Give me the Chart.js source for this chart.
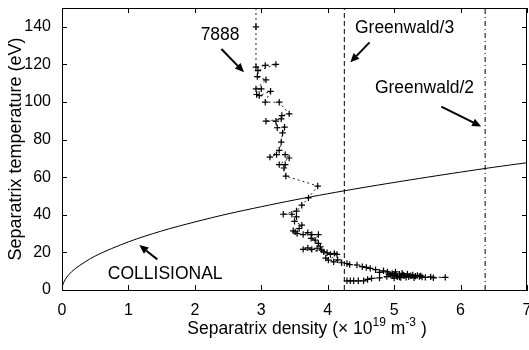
<!DOCTYPE html>
<html><head><meta charset="utf-8">
<script src="https://cdn.jsdelivr.net/npm/chart.js@4"></script>
<style>html,body{margin:0;padding:0;background:#fff}canvas{display:block}</style>
</head><body>
<canvas id="c" width="529" height="350"></canvas>
<script>
const xTicks = [0, 1, 2, 3, 4, 5, 6, 7];
const yTicks = [0, 20, 40, 60, 80, 100, 120, 140];

const density7888 = [2.92, 2.92, 2.92, 3.06, 3.22, 2.95, 2.94, 3.07, 2.92, 3.0, 2.93, 2.97, 3.14, 3.06, 3.27,
  3.42, 3.31, 3.30, 3.07, 3.22, 3.24, 3.35, 3.32, 3.30, 3.27, 3.13, 3.23, 3.36, 3.42, 3.27, 3.36, 3.34, 3.37,
  3.85, 3.71, 3.61, 3.53, 3.33, 3.46, 3.53, 3.50, 3.61, 3.57, 3.51, 3.48, 3.54, 3.63, 3.70, 3.76, 3.86, 3.81, 3.75, 3.86, 3.89, 3.94,
  3.63, 3.70, 3.76, 3.84, 3.91, 3.99, 4.04, 4.10, 4.14, 4.01, 3.97, 4.09, 4.15, 4.21, 4.29, 4.33, 4.44, 4.52, 4.58, 4.64, 4.72, 4.84, 4.78, 4.90,
  4.97, 5.02, 5.08, 5.14, 4.95, 5.05, 5.20, 5.25, 5.32, 5.10, 5.00, 5.18, 5.38, 5.47, 5.59, 5.77,
  5.55, 5.42, 5.35, 5.22, 5.15, 5.08, 4.98, 4.92, 5.00, 5.12, 5.28, 5.40, 5.30, 5.04,
  4.89, 4.78, 4.66, 4.60, 4.54, 4.46, 4.39, 4.34, 4.29];
const temp7888 = [150, 140, 118.5, 119.5, 120, 116.7, 113.5, 111.8, 107, 107, 104, 103.4, 105.7, 99.9, 99.9,
  93.7, 92.8, 91, 89.8, 89.8, 86.3, 86.6, 83.6, 78.7, 74.3, 70.7, 72, 72, 70.2, 66.7, 66.7, 64.9, 60.6,
  55.3, 49, 45.1, 42, 40.3, 40.3, 38.9, 36.5, 34.5, 32.7, 30.9, 31.5, 30, 29.5, 30.5, 29.5, 29.5, 26.5, 27.5, 24.8, 23, 20.3,
  21.6, 22.4, 21.6, 22.2, 21.2, 19.8, 18.9, 19.5, 18.9, 15.9, 17.0, 15, 16.0, 14.5, 14.1, 13.5, 13.3, 12.4, 12.0, 11.5, 10.8, 10.2, 9.4, 9.6,
  8.8, 9.6, 8.4, 8, 7.9, 7.2, 8.6, 7.6, 7.4, 6.6, 6.3, 6.8, 7.2, 6.7, 6.5, 6.7,
  7.0, 6.9, 7.8, 7.0, 7.5, 6.9, 7.6, 8.4, 8.1, 8.9, 8.0, 7.5, 6.5, 7.4,
  7.1, 6.4, 6.2, 5.6, 4.9, 4.9, 4.9, 4.9, 4.9];

const collisionalDensity = [0, 0.01, 0.05, 0.1, 0.2, 0.5, 1, 1.5, 2, 2.5, 3, 3.5, 4, 4.5, 5, 5.5, 6, 6.5, 7];
const collisionalTemp = [0, 2.6, 5.7, 8.1, 11.4, 18.1, 25.6, 31.4, 36.2, 40.5, 44.3, 47.9, 51.2, 54.3, 57.2, 60.0, 62.7, 65.3, 67.7];

const greenwald3 = 4.25;
const greenwald2 = 6.37;

const noteTexts = ['7888', 'Greenwald/3', 'Greenwald/2', 'COLLISIONAL'];
const noteAt = [[2.38, 135.3, 'center'], [4.41, 139.3, 'left'], [4.71, 107.4, 'left'], [0.69, 8.2, 'left']];
const arrowAt = [[2.40, 128.2, 2.74, 115.8], [4.63, 131.7, 4.34, 121.1], [5.71, 97.5, 6.31, 87], [1.435, 16.3, 1.164, 23.9]];

const FONT = '"Liberation Sans", Arial, Helvetica, sans-serif';
const toPts = (xs, ys) => xs.map((x, i) => ({x: x, y: ys[i]}));

const decor = {
  id: 'decor',
  afterDatasetsDraw(chart) {
    const ctx = chart.ctx, a = chart.chartArea, xs = chart.scales.x, ys = chart.scales.y;
    ctx.save();
    ctx.strokeStyle = '#000'; ctx.lineWidth = 1;
    ctx.beginPath();
    ctx.moveTo(a.left, a.top + 0.5); ctx.lineTo(a.right, a.top + 0.5);
    ctx.moveTo(a.right - 0.5, a.top); ctx.lineTo(a.right - 0.5, a.bottom);
    const tl = 5;
    xTicks.forEach(v => {
      const px = Math.round(xs.getPixelForValue(v)) + 0.5;
      ctx.moveTo(px, a.bottom); ctx.lineTo(px, a.bottom - tl);
      ctx.moveTo(px, a.top); ctx.lineTo(px, a.top + tl);
    });
    yTicks.forEach(v => {
      const py = Math.round(ys.getPixelForValue(v)) + 0.5;
      ctx.moveTo(a.left, py); ctx.lineTo(a.left + tl, py);
      ctx.moveTo(a.right, py); ctx.lineTo(a.right - tl, py);
    });
    ctx.stroke();

    // annotations
    ctx.fillStyle = '#000';
    ctx.font = '17.5px ' + FONT;
    ctx.textBaseline = 'middle';
    noteTexts.forEach((t, i) => {
      const [n, T, al] = noteAt[i];
      ctx.textAlign = al;
      ctx.fillText(t, xs.getPixelForValue(n), ys.getPixelForValue(T));
    });
    arrowAt.forEach(([x0, y0, x1, y1]) => {
      const ax = xs.getPixelForValue(x0), ay = ys.getPixelForValue(y0);
      const bx = xs.getPixelForValue(x1), by = ys.getPixelForValue(y1);
      const ang = Math.atan2(by - ay, bx - ax), hl = 9, hw = 4;
      const cx = bx - hl * Math.cos(ang), cy = by - hl * Math.sin(ang);
      ctx.lineWidth = 2;
      ctx.beginPath(); ctx.moveTo(ax, ay); ctx.lineTo(cx, cy); ctx.stroke();
      ctx.beginPath();
      ctx.moveTo(bx, by);
      ctx.lineTo(cx + hw * Math.sin(ang), cy - hw * Math.cos(ang));
      ctx.lineTo(cx - hw * Math.sin(ang), cy + hw * Math.cos(ang));
      ctx.closePath(); ctx.fill();
    });

    // x axis title with superscripts
    const parts = [['Separatrix density (\u00d7 10', 0], ['19', 1], [' m', 0], ['-3', 1], [' )', 0]];
    const big = '17.5px ' + FONT, small = '12px ' + FONT;
    let w = 0;
    parts.forEach(([s, sup]) => { ctx.font = sup ? small : big; w += ctx.measureText(s).width; });
    let x = 307 - w / 2;
    const base = 334;
    ctx.textAlign = 'left'; ctx.textBaseline = 'alphabetic';
    parts.forEach(([s, sup]) => {
      ctx.font = sup ? small : big;
      ctx.fillText(s, x, sup ? base - 8 : base);
      x += ctx.measureText(s).width;
    });
    ctx.restore();
  }
};

new Chart(document.getElementById('c'), {
  type: 'scatter',
  data: {
    datasets: [
      {
        label: '7888',
        data: toPts(density7888, temp7888),
        showLine: true,
        borderColor: '#222',
        borderWidth: 1,
        borderDash: [2, 3],
        pointStyle: 'cross',
        pointRadius: ctx => ctx.dataIndex === 0 ? 0 : 3.2,
        pointBorderWidth: 1.2,
        pointBorderColor: '#000',
        tension: 0
      },
      {
        label: 'Collisional',
        data: toPts(collisionalDensity, collisionalTemp),
        showLine: true,
        borderColor: '#000',
        borderWidth: 1,
        pointRadius: 0,
        tension: 0.3
      },
      {
        label: 'Greenwald/3',
        data: [{x: greenwald3, y: 0}, {x: greenwald3, y: 150}],
        showLine: true,
        borderColor: '#000',
        borderWidth: 1,
        borderDash: [5, 3],
        pointRadius: 0
      },
      {
        label: 'Greenwald/2',
        data: [{x: greenwald2, y: 0}, {x: greenwald2, y: 150}],
        showLine: true,
        borderColor: '#000',
        borderWidth: 1,
        borderDash: [5, 3, 1, 3],
        pointRadius: 0
      }
    ]
  },
  options: {
    responsive: false,
    animation: false,
    layout: {autoPadding: false, padding: {top: 8, right: 2, left: 0, bottom: 0}},
    plugins: {legend: {display: false}, tooltip: {enabled: false}},
    scales: {
      x: {
        type: 'linear', min: 0, max: 7,
        afterBuildTicks: s => { s.ticks = xTicks.map(v => ({value: v})); },
        ticks: {font: {family: FONT, size: 16}, color: '#000', padding: 3, maxRotation: 0, autoSkip: false},
        grid: {display: false},
        border: {color: '#000', width: 1},
        afterFit: s => { s.height = 60; s.paddingLeft = 0; s.paddingRight = 0; }
      },
      y: {
        type: 'linear', min: 0, max: 150,
        afterBuildTicks: s => { s.ticks = yTicks.map(v => ({value: v})); },
        ticks: {font: {family: FONT, size: 16}, color: '#000', padding: 3, autoSkip: false},
        grid: {display: false},
        border: {color: '#000', width: 1},
        title: {display: true, text: 'Separatrix temperature (eV)', color: '#000', font: {family: FONT, size: 18}, padding: {top: 5, bottom: 0}},
        afterFit: s => { s.width = 62; s.paddingTop = 0; s.paddingBottom = 0; }
      }
    }
  },
  plugins: [decor]
});
</script>
</body></html>
